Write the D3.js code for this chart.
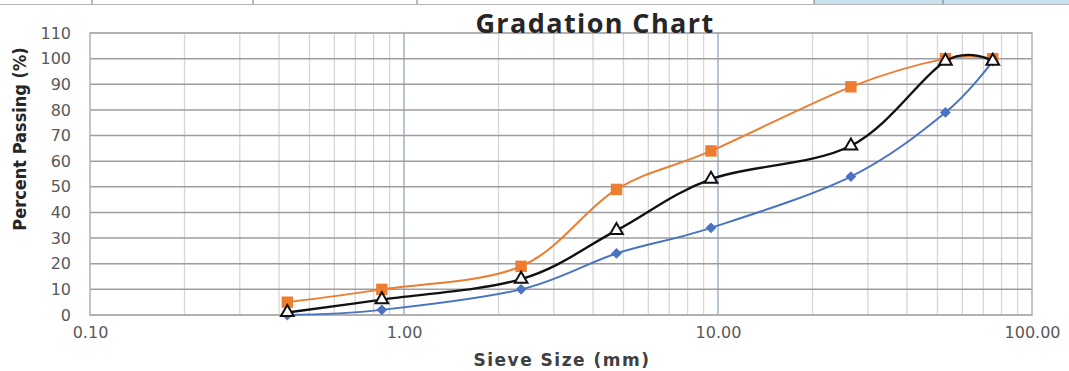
<!DOCTYPE html>
<html>
<head>
<meta charset="utf-8">
<script src="https://cdn.jsdelivr.net/npm/d3@7/dist/d3.min.js"></script>
<style>
    body { margin: 0; background: #fff; }
    #chart { width: 1069px; height: 371px; }
</style>
</head>
<body>
<div id="chart"></div>
<script>
// sieve sizes (mm) and percent passing
const sieveSizes    = [0.425, 0.85, 2.36, 4.75, 9.5, 26.5, 53, 75];
const upperLimit    = [5, 10, 19, 49, 64, 89, 100, 100];
const lowerLimit    = [0, 2, 10, 24, 34, 54, 79, 99];
const sampleGrading = [1, 6, 14, 33, 53, 66, 99, 99];

const yTicks = [0, 10, 20, 30, 40, 50, 60, 70, 80, 90, 100, 110];
const xTicks = [0.1, 1, 10, 100];
const xTickLabels = ["0.10", "1.00", "10.00", "100.00"];

function GradationChart() {

    let self = this;

    self.initialize = function(conf) {
        self.el = document.getElementById(conf.el);
        self.graphWidth = 1069;
        self.graphHeight = 371;
        self.margin = {top: 33, right: 37, bottom: 56, left: 90};
        self.width = self.graphWidth - self.margin.left - self.margin.right;
        self.height = self.graphHeight - self.margin.top - self.margin.bottom;

        self.x = d3.scaleLog().domain([0.1, 100]).range([0, self.width]);
        self.y = d3.scaleLinear().domain([0, 110]).range([self.height, 0]);

        self.series = [
            {key: "upper", values: upperLimit, color: "#ed7d31", width: 2, marker: "square"},
            {key: "lower", values: lowerLimit, color: "#4a74c2", width: 2, marker: "diamond"},
            {key: "sample", values: sampleGrading, color: "#111", width: 2.4, marker: "triangle"}
        ];

        self.render();
    };

    self.render = function() {
        self.svg = d3.select(self.el).append("svg")
            .attr("width", self.graphWidth)
            .attr("height", self.graphHeight);

        self.renderSheetStrip();

        self.g = self.svg.append("g")
            .attr("transform", "translate(" + self.margin.left + "," + self.margin.top + ")");

        self.renderGrid();
        self.renderAxes();
        self.renderLines();
        self.renderTitles();
    };

    // bit of the spreadsheet showing above the chart
    self.renderSheetStrip = function() {
        self.svg.append("rect")
            .attr("x", 814).attr("y", 0).attr("width", 255).attr("height", 4)
            .attr("fill", "#c9e2f0");
        self.svg.append("line")
            .attr("x1", 0).attr("x2", self.graphWidth).attr("y1", 4.5).attr("y2", 4.5)
            .attr("stroke", "#b5b5b5").attr("stroke-width", 1);
        [92, 253, 417, 814, 943].forEach(function(px) {
            self.svg.append("line")
                .attr("x1", px).attr("x2", px).attr("y1", 0).attr("y2", 4)
                .attr("stroke", "#777").attr("stroke-width", 1);
        });
    };

    self.renderGrid = function() {
        let minor = [];
        [0.1, 1, 10].forEach(function(dec) {
            for (let k = 2; k <= 9; k++) minor.push(dec * k);
        });

        self.g.selectAll("line.vminor")
            .data(minor)
            .enter().append("line")
            .attr("class", "vminor")
            .attr("x1", d => self.x(d)).attr("x2", d => self.x(d))
            .attr("y1", 0).attr("y2", self.height)
            .attr("stroke", "#d6d6d6").attr("stroke-width", 1.3);

        self.g.selectAll("line.vmajor")
            .data([1, 10])
            .enter().append("line")
            .attr("class", "vmajor")
            .attr("x1", d => self.x(d)).attr("x2", d => self.x(d))
            .attr("y1", 0).attr("y2", self.height)
            .attr("stroke", "#9fb2cc").attr("stroke-width", 1.5);

        self.g.selectAll("line.hgrid")
            .data(yTicks)
            .enter().append("line")
            .attr("class", "hgrid")
            .attr("x1", 0).attr("x2", self.width)
            .attr("y1", d => self.y(d)).attr("y2", d => self.y(d))
            .attr("stroke", "#9d9d9d").attr("stroke-width", 1.5);

        self.g.append("rect")
            .attr("width", self.width).attr("height", self.height)
            .attr("fill", "none")
            .attr("stroke", "#b0b0b0").attr("stroke-width", 1.5);
    };

    self.renderAxes = function() {
        let yAxis = d3.axisLeft(self.y).tickValues(yTicks).tickSize(0).tickPadding(19);
        let yg = self.g.append("g").call(yAxis);
        yg.select(".domain").remove();
        yg.selectAll("text")
            .attr("fill", "#595959")
            .style("font-family", "DejaVu Sans, sans-serif")
            .style("font-size", "16px");

        let xAxis = d3.axisBottom(self.x).tickValues(xTicks).tickSize(0).tickPadding(12)
            .tickFormat((d, i) => xTickLabels[i]);
        let xg = self.g.append("g")
            .attr("transform", "translate(0," + self.height + ")")
            .call(xAxis);
        xg.select(".domain").remove();
        xg.selectAll("text")
            .attr("fill", "#595959")
            .style("font-family", "DejaVu Sans, sans-serif")
            .style("font-size", "16px");
    };

    self.renderLines = function() {
        let line = d3.line()
            .x(d => self.x(d[0]))
            .y(d => self.y(d[1]))
            .curve(d3.curveCardinal.tension(0));

        self.series.forEach(function(s) {
            let pts = sieveSizes.map((v, i) => [v, s.values[i]]);
            let grp = self.g.append("g").attr("class", "series-" + s.key);

            grp.append("path")
                .datum(pts)
                .attr("fill", "none")
                .attr("stroke", s.color)
                .attr("stroke-width", s.width)
                .attr("d", line);

            let sym, rot = 0;
            if (s.marker === "square") sym = d3.symbol().type(d3.symbolSquare).size(130);
            else if (s.marker === "diamond") { sym = d3.symbol().type(d3.symbolSquare).size(58); rot = 45; }
            else sym = d3.symbol().type(d3.symbolTriangle).size(70);

            grp.selectAll("path.mk")
                .data(pts)
                .enter().append("path")
                .attr("class", "mk")
                .attr("transform", d => "translate(" + self.x(d[0]) + "," + self.y(d[1]) + ") rotate(" + rot + ")")
                .attr("d", sym)
                .attr("fill", s.marker === "triangle" ? "#fff" : s.color)
                .attr("stroke", s.marker === "triangle" ? s.color : "none")
                .attr("stroke-width", 2);
        });
    };

    self.renderTitles = function() {
        self.svg.append("text")
            .attr("x", 595).attr("y", 33)
            .attr("text-anchor", "middle")
            .attr("fill", "#262626")
            .style("font-family", "Open Sans, sans-serif")
            .style("font-weight", "bold")
            .style("font-size", "27px")
            .style("letter-spacing", "1.4px")
            .text("Gradation Chart");

        self.svg.append("text")
            .attr("x", 562).attr("y", 366)
            .attr("text-anchor", "middle")
            .attr("fill", "#404040")
            .style("font-family", "DejaVu Sans, sans-serif")
            .style("font-weight", "bold")
            .style("font-size", "17px")
            .style("letter-spacing", "1.5px")
            .text("Sieve Size (mm)");

        self.svg.append("text")
            .attr("transform", "translate(26,139) rotate(-90)")
            .attr("text-anchor", "middle")
            .attr("fill", "#262626")
            .style("font-family", "Liberation Sans Narrow, DejaVu Sans Condensed, sans-serif")
            .style("font-weight", "bold")
            .style("font-size", "18px")
            .text("Percent Passing (%)");
    };
}

new GradationChart().initialize({el: "chart"});
</script>
</body>
</html>
